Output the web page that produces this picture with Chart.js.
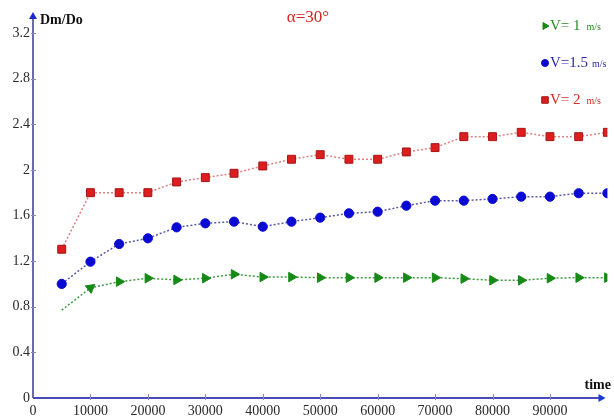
<!DOCTYPE html>
<html>
<head>
<meta charset="utf-8">
<script src="https://cdn.jsdelivr.net/npm/chart.js@4/dist/chart.umd.min.js"></script>
<style>
  html, body { margin: 0; padding: 0; background: #ffffff; }
  canvas { display: block; }
</style>
</head>
<body>
<canvas id="chart" width="614" height="418"></canvas>
<script>
// Sampling times
const times = [5000, 10000, 15000, 20000, 25000, 30000, 35000, 40000, 45000, 50000,
               55000, 60000, 65000, 70000, 75000, 80000, 85000, 90000, 95000, 100000];

// Dm/Do for each flow speed
const ratioV1  = [0.77, 0.965, 1.02, 1.05, 1.035, 1.05, 1.085, 1.06, 1.06, 1.055,
                  1.055, 1.055, 1.055, 1.055, 1.046, 1.032, 1.032, 1.05, 1.055, 1.055];
const ratioV15 = [1.0, 1.195, 1.35, 1.40, 1.496, 1.531, 1.546, 1.502, 1.546, 1.581,
                  1.619, 1.633, 1.686, 1.73, 1.73, 1.745, 1.765, 1.765, 1.795, 1.795];
const ratioV2  = [1.304, 1.80, 1.80, 1.80, 1.894, 1.932, 1.97, 2.034, 2.093, 2.133,
                  2.093, 2.093, 2.157, 2.195, 2.291, 2.291, 2.329, 2.291, 2.291, 2.329];

// Series names and unit
const seriesNames = ['V= 1', 'V=1.5', 'V= 2'];
const speedUnit = 'm/s';

// Axis ticks
const xTickValues = [0, 10000, 20000, 30000, 40000, 50000, 60000, 70000, 80000, 90000];
const yTickValues = [0, 0.4, 0.8, 1.2, 1.6, 2, 2.4, 2.8, 3.2];

const titleText = 'α=30°';
const yAxisTitle = 'Dm/Do';
const xAxisTitle = 'time';

const SERIF = "'Liberation Serif', 'Times New Roman', serif";

const toPoints = arr => arr.map((v, i) => ({ x: times[i], y: v }));

// Triangles point right, except the first one which follows the rising segment
function triangleRotation(c) {
  if (c.type !== 'data') return 90;
  const i = c.dataIndex;
  if (i !== 1) return 90;
  const d = c.dataset.data;
  const xs = c.chart.scales.x, ys = c.chart.scales.y;
  const dx = xs.getPixelForValue(d[i].x) - xs.getPixelForValue(d[i - 1].x);
  const dy = ys.getPixelForValue(d[i].y) - ys.getPixelForValue(d[i - 1].y);
  return Math.atan2(dy, dx) * 180 / Math.PI + 90;
}

const datasets = [
  {
    label: seriesNames[0],
    data: toPoints(ratioV1),
    borderColor: '#3f9a3f',
    borderWidth: 1.5,
    borderDash: [2, 2],
    pointStyle: 'triangle',
    pointRotation: triangleRotation,
    pointRadius: c => (c.dataIndex === 0 ? 0 : 5.5),
    pointBackgroundColor: '#168a16',
    pointBorderColor: '#168a16',
    pointBorderWidth: 1,
    textColor: '#2a8a2a',
    tension: 0
  },
  {
    label: seriesNames[1],
    data: toPoints(ratioV15),
    borderColor: '#5a5aa8',
    borderWidth: 1.5,
    borderDash: [2, 2],
    pointStyle: 'circle',
    pointRadius: 4.6,
    pointBackgroundColor: '#0a0ad2',
    pointBorderColor: '#0a0ad2',
    pointBorderWidth: 1,
    textColor: '#2a2aa8',
    tension: 0
  },
  {
    label: seriesNames[2],
    data: toPoints(ratioV2),
    borderColor: '#e08080',
    borderWidth: 1.5,
    borderDash: [2, 2],
    pointStyle: 'rect',
    pointRadius: 5.6,
    pointBackgroundColor: '#dc1e1e',
    pointBorderColor: '#a81414',
    pointBorderWidth: 1,
    textColor: '#d42a2a',
    tension: 0
  }
];

// Axis lines with arrowheads and crossing tick marks
const axesPlugin = {
  id: 'arrowAxes',
  beforeDatasetsDraw(chart) {
    const { ctx, chartArea, scales } = chart;
    const x0 = scales.x.getPixelForValue(0);
    const y0 = scales.y.getPixelForValue(0);
    ctx.save();
    // y axis
    ctx.strokeStyle = '#6a6aae';
    ctx.lineWidth = 2;
    ctx.beginPath();
    ctx.moveTo(x0, y0);
    ctx.lineTo(x0, chartArea.top + 4);
    ctx.stroke();
    ctx.fillStyle = '#1a2ad0';
    ctx.beginPath();
    ctx.moveTo(x0, chartArea.top - 1);
    ctx.lineTo(x0 - 4, chartArea.top + 6);
    ctx.lineTo(x0 + 4, chartArea.top + 6);
    ctx.closePath();
    ctx.fill();
    // x axis
    const xEnd = scales.x.getPixelForValue(99500);
    ctx.strokeStyle = '#4a4ab8';
    ctx.beginPath();
    ctx.moveTo(x0, y0);
    ctx.lineTo(xEnd - 5, y0);
    ctx.stroke();
    ctx.fillStyle = '#1a3ad8';
    ctx.beginPath();
    ctx.moveTo(xEnd + 1, y0);
    ctx.lineTo(xEnd - 6, y0 - 4);
    ctx.lineTo(xEnd - 6, y0 + 4);
    ctx.closePath();
    ctx.fill();
    // tick marks
    ctx.strokeStyle = '#8888c0';
    ctx.lineWidth = 1;
    yTickValues.forEach(v => {
      if (v === 0) return;
      const py = Math.round(scales.y.getPixelForValue(v)) + 0.5;
      ctx.beginPath();
      ctx.moveTo(x0 - 2, py);
      ctx.lineTo(x0 + 3, py);
      ctx.stroke();
    });
    xTickValues.forEach(v => {
      if (v === 0) return;
      const px = Math.round(scales.x.getPixelForValue(v)) + 0.5;
      ctx.beginPath();
      ctx.moveTo(px, y0 - 4);
      ctx.lineTo(px, y0 + 2);
      ctx.stroke();
    });
    ctx.restore();
  }
};

// Title, axis names and the legend
const textPlugin = {
  id: 'labels',
  afterDraw(chart) {
    const { ctx, scales } = chart;
    ctx.save();
    ctx.textBaseline = 'middle';

    ctx.fillStyle = '#d42424';
    ctx.font = '17px ' + SERIF;
    ctx.textAlign = 'center';
    ctx.fillText(titleText, 308, 18);

    ctx.fillStyle = '#111111';
    ctx.font = 'bold 14px ' + SERIF;
    ctx.textAlign = 'left';
    ctx.fillText(yAxisTitle, scales.x.getPixelForValue(0) + 7, 20);
    ctx.textAlign = 'right';
    ctx.fillText(xAxisTitle, 611, 385);

    const rowsY = [26, 63, 100];
    chart.data.datasets.forEach((ds, i) => {
      const y = rowsY[i];
      const mx = 545;
      ctx.fillStyle = ds.pointBackgroundColor;
      ctx.strokeStyle = ds.pointBorderColor;
      ctx.lineWidth = 1;
      Chart.helpers.drawPoint(ctx, {
        pointStyle: ds.pointStyle,
        radius: ds.pointStyle === 'circle' ? 3.5 : (ds.pointStyle === 'rect' ? 4.6 : 4),
        rotation: ds.pointStyle === 'triangle' ? 90 : 0,
        borderWidth: 1
      }, mx, y);
      ctx.fillStyle = ds.textColor;
      ctx.textAlign = 'left';
      ctx.font = '15px ' + SERIF;
      ctx.fillText(ds.label, 550, y);
      const w = ctx.measureText(ds.label).width;
      ctx.font = '10px ' + SERIF;
      ctx.fillText(speedUnit, 550 + w + (i === 1 ? 4 : 6), y + 1);
    });
    ctx.restore();
  }
};

new Chart(document.getElementById('chart'), {
  type: 'line',
  data: { datasets },
  options: {
    responsive: false,
    animation: false,
    devicePixelRatio: 1,
    layout: { padding: { top: 13, right: 2, left: 0, bottom: 0 } },
    plugins: { legend: { display: false }, tooltip: { enabled: false }, title: { display: false } },
    scales: {
      x: {
        type: 'linear',
        min: 0,
        max: 100000,
        grid: { display: false, drawTicks: false },
        border: { display: false },
        afterBuildTicks: s => { s.ticks = xTickValues.map(v => ({ value: v })); },
        afterFit: s => { s.height = 20; },
        ticks: {
          padding: 5,
          maxRotation: 0,
          autoSkip: false,
          color: '#2a2a2a',
          font: { family: SERIF, size: 14 },
          callback: v => String(v)
        }
      },
      y: {
        type: 'linear',
        min: 0,
        max: 3.375,
        grid: { display: false, drawTicks: false },
        border: { display: false },
        afterBuildTicks: s => { s.ticks = yTickValues.map(v => ({ value: v })); },
        afterFit: s => { s.width = 33; },
        ticks: {
          padding: 3,
          autoSkip: false,
          color: '#2a2a2a',
          font: { family: SERIF, size: 14 },
          callback: v => String(+v.toFixed(1))
        }
      }
    }
  },
  plugins: [axesPlugin, textPlugin]
});
</script>
</body>
</html>
